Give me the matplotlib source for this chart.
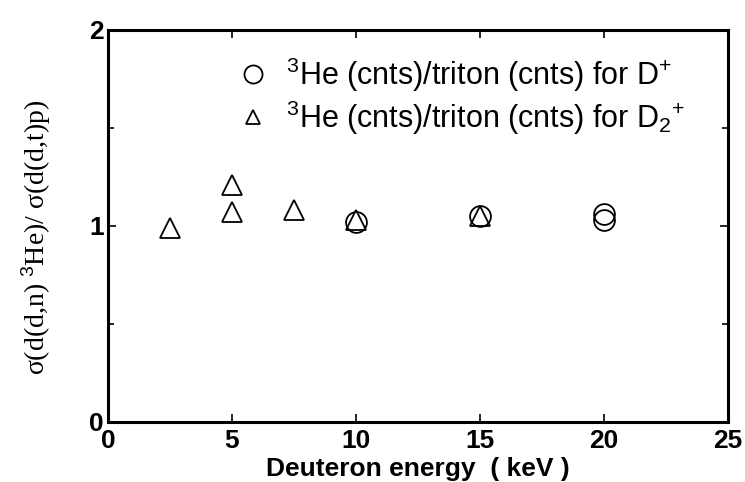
import matplotlib
matplotlib.use('Agg')
import matplotlib.pyplot as plt
from matplotlib.ticker import MultipleLocator

# Ratio data
d1_energy = [10, 15, 20, 20]
d1_ratio = [1.02, 1.05, 1.06, 1.03]

d2_energy = [2.5, 5, 5, 7.5, 10, 15]
d2_ratio = [0.99, 1.21, 1.07, 1.08, 1.03, 1.05]

x_ticks = [0, 5, 10, 15, 20, 25]
y_ticks = [0, 1, 2]

plt.rcParams['font.family'] = ['Liberation Sans', 'DejaVu Sans']
plt.rcParams['mathtext.fontset'] = 'custom'
plt.rcParams['mathtext.rm'] = 'Liberation Sans'
plt.rcParams['mathtext.it'] = 'Liberation Sans'
plt.rcParams['mathtext.bf'] = 'Liberation Sans:bold'

fig = plt.figure(figsize=(7.45, 4.82), dpi=100)
ax = fig.add_axes([0.145, 0.1245, 0.832, 0.8135])

ax.plot(d1_energy, d1_ratio, 'o', mfc='none', mec='black', mew=1.3, ms=15,
        label='$^{3}$He (cnts)/triton (cnts) for D$^{+}$')
ax.plot(d2_energy, d2_ratio, '^', mfc='none', mec='black', mew=1.3, ms=14,
        label='$^{3}$He (cnts)/triton (cnts) for D$_{2}$$^{+}$')

ax.set_xlim(0, 25)
ax.set_ylim(0, 2)
ax.set_xticks(x_ticks)
ax.set_yticks(y_ticks)
ax.yaxis.set_minor_locator(MultipleLocator(0.5))
ax.tick_params(which='both', direction='in', top=True, right=True, width=1.2)
ax.tick_params(which='major', length=6, labelsize=19, pad=3)
ax.tick_params(axis='x', which='major', pad=5)
ax.tick_params(which='minor', length=4)
for lab in ax.get_xticklabels() + ax.get_yticklabels():
    lab.set_fontweight('bold')
for s in ax.spines.values():
    s.set_linewidth(2.2)

ax.set_xlabel('Deuteron energy  ( keV )', fontsize=19, fontweight='bold', labelpad=3)
ax.set_ylabel('σ(d(d,n) $^{3}$He)/ σ(d(d,t)p)', fontsize=20,
              family=['Liberation Serif', 'DejaVu Serif'])
ax.yaxis.set_label_coords(-0.088, 0.47)

leg = ax.legend(loc='upper left', bbox_to_anchor=(0.21, 0.935), frameon=False,
                fontsize=22, handletextpad=0.55, borderpad=0, borderaxespad=0,
                labelspacing=0.15, handlelength=1.0)
leg.legend_handles[0].set_markersize(13)
leg.legend_handles[1].set_markersize(9.5)

plt.savefig('out.png', dpi=100)
